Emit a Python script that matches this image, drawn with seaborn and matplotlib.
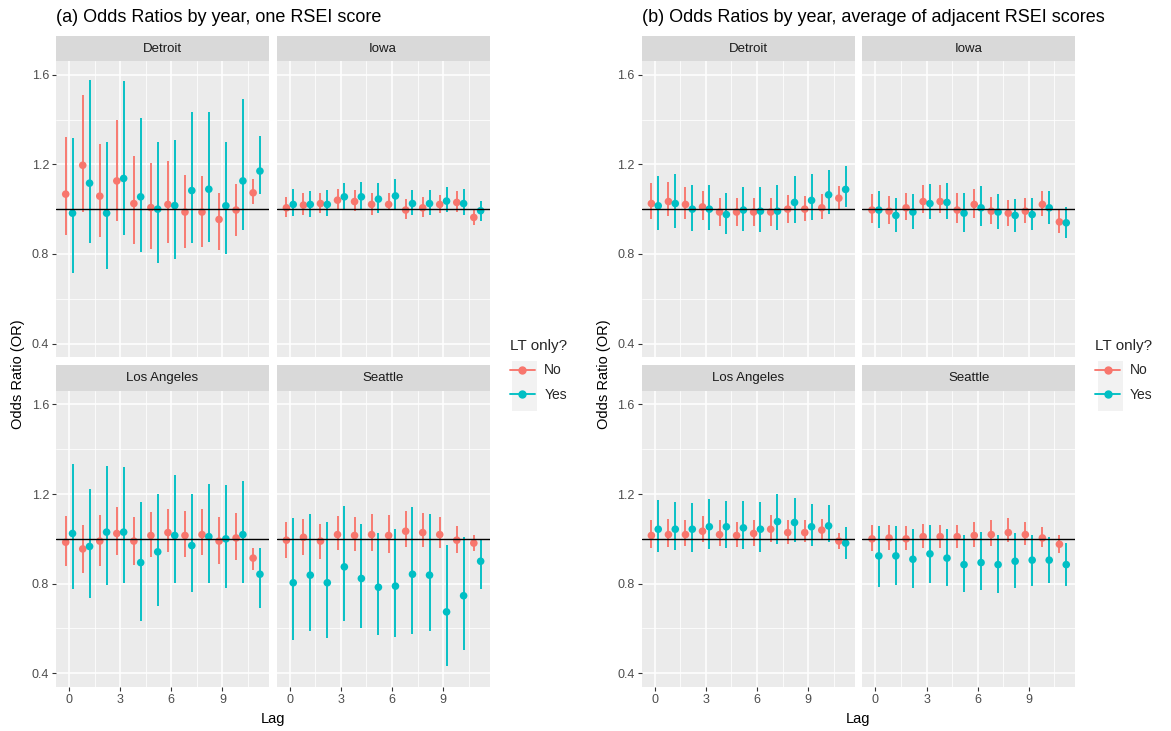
import pandas as pd
import matplotlib
matplotlib.use("Agg")
import matplotlib.pyplot as plt
from matplotlib.lines import Line2D
from matplotlib.patches import Rectangle
from matplotlib.ticker import FixedLocator, FormatStrFormatter
import seaborn as sns

# ------------------------------------------------------------
# Data
# ------------------------------------------------------------
LAGS = list(range(12))
CITIES = ["Detroit", "Iowa", "Los Angeles", "Seattle"]
GROUPS = ["No", "Yes"]
COLORS = {"No": "#F8766D", "Yes": "#00BFC4"}
DODGE = {"No": -0.2, "Yes": 0.2}

# (a) one RSEI score
a_det_no = [1.067, 1.196, 1.058, 1.126, 1.025, 1.007, 1.021, 0.987, 0.987, 0.954, 0.996, 1.073]
a_det_no_lo = [0.884, 0.988, 0.874, 0.945, 0.844, 0.822, 0.850, 0.826, 0.832, 0.816, 0.880, 1.022]
a_det_no_hi = [1.324, 1.510, 1.290, 1.399, 1.238, 1.204, 1.214, 1.152, 1.149, 1.074, 1.113, 1.134]
a_det_yes = [0.982, 1.116, 0.982, 1.137, 1.055, 1.000, 1.016, 1.083, 1.089, 1.015, 1.126, 1.170]
a_det_yes_lo = [0.717, 0.851, 0.735, 0.884, 0.807, 0.759, 0.777, 0.851, 0.854, 0.798, 0.908, 1.067]
a_det_yes_hi = [1.318, 1.577, 1.300, 1.573, 1.409, 1.300, 1.309, 1.434, 1.434, 1.300, 1.491, 1.327]

a_iowa_no = [1.006, 1.018, 1.025, 1.040, 1.034, 1.021, 1.021, 0.996, 1.006, 1.021, 1.030, 0.963]
a_iowa_no_lo = [0.966, 0.975, 0.984, 0.997, 0.993, 0.976, 0.997, 0.955, 0.966, 0.981, 0.988, 0.929]
a_iowa_no_hi = [1.055, 1.070, 1.074, 1.089, 1.085, 1.070, 1.070, 1.045, 1.055, 1.065, 1.080, 1.000]
a_iowa_yes = [1.021, 1.021, 1.021, 1.055, 1.055, 1.045, 1.059, 1.025, 1.025, 1.036, 1.025, 0.993]
a_iowa_yes_lo = [0.970, 0.966, 0.970, 0.997, 0.997, 0.985, 0.997, 0.975, 0.975, 0.988, 0.975, 0.948]
a_iowa_yes_hi = [1.089, 1.080, 1.085, 1.116, 1.122, 1.116, 1.134, 1.085, 1.085, 1.098, 1.089, 1.036]

a_la_no = [0.985, 0.955, 0.990, 1.024, 0.990, 1.015, 1.028, 1.015, 1.019, 0.990, 1.004, 0.914]
a_la_no_lo = [0.877, 0.849, 0.877, 0.930, 0.883, 0.920, 0.943, 0.920, 0.926, 0.887, 0.906, 0.859]
a_la_no_hi = [1.103, 1.064, 1.107, 1.140, 1.097, 1.120, 1.135, 1.125, 1.135, 1.097, 1.116, 0.961]
a_la_yes = [1.024, 0.966, 1.030, 1.030, 0.894, 0.942, 1.015, 0.970, 1.010, 1.000, 1.019, 0.842]
a_la_yes_lo = [0.775, 0.738, 0.795, 0.805, 0.634, 0.699, 0.801, 0.763, 0.801, 0.781, 0.805, 0.690]
a_la_yes_hi = [1.336, 1.223, 1.327, 1.321, 1.164, 1.198, 1.284, 1.198, 1.245, 1.241, 1.260, 0.961]

a_sea_no = [0.994, 1.007, 0.990, 1.019, 1.015, 1.019, 1.015, 1.034, 1.028, 1.019, 0.994, 0.981]
a_sea_no_lo = [0.915, 0.930, 0.911, 0.949, 0.945, 0.945, 0.939, 0.964, 0.964, 0.958, 0.935, 0.945]
a_sea_no_hi = [1.077, 1.088, 1.068, 1.103, 1.097, 1.112, 1.107, 1.126, 1.116, 1.097, 1.058, 1.015]
a_sea_yes = [0.804, 0.838, 0.804, 0.875, 0.823, 0.784, 0.789, 0.842, 0.838, 0.674, 0.746, 0.900]
a_sea_yes_lo = [0.547, 0.587, 0.557, 0.633, 0.602, 0.572, 0.561, 0.576, 0.587, 0.433, 0.505, 0.777]
a_sea_yes_hi = [1.092, 1.112, 1.073, 1.146, 1.068, 1.025, 1.043, 1.140, 1.112, 0.972, 1.010, 1.000]

# (b) average of adjacent RSEI scores
b_det_no = [1.025, 1.034, 1.021, 1.010, 0.987, 0.987, 0.987, 0.987, 1.000, 1.000, 1.006, 1.049]
b_det_no_lo = [0.955, 0.970, 0.955, 0.951, 0.927, 0.927, 0.923, 0.923, 0.940, 0.946, 0.955, 1.000]
b_det_no_hi = [1.116, 1.122, 1.098, 1.079, 1.049, 1.049, 1.049, 1.049, 1.064, 1.059, 1.068, 1.103]
b_det_yes = [1.015, 1.025, 1.000, 1.000, 0.976, 0.996, 0.991, 0.991, 1.030, 1.039, 1.064, 1.088]
b_det_yes_lo = [0.908, 0.917, 0.903, 0.908, 0.888, 0.903, 0.899, 0.908, 0.940, 0.951, 0.978, 1.010]
b_det_yes_hi = [1.146, 1.155, 1.107, 1.107, 1.073, 1.098, 1.098, 1.107, 1.146, 1.155, 1.175, 1.193]

b_iowa_no = [0.996, 0.991, 1.006, 1.034, 1.034, 0.996, 1.021, 0.991, 0.982, 0.991, 1.021, 0.943]
b_iowa_no_lo = [0.936, 0.932, 0.951, 0.981, 0.981, 0.936, 0.961, 0.932, 0.927, 0.936, 0.970, 0.893]
b_iowa_no_hi = [1.068, 1.059, 1.073, 1.107, 1.107, 1.073, 1.092, 1.054, 1.039, 1.049, 1.083, 1.000]
b_iowa_yes = [0.996, 0.972, 0.987, 1.025, 1.030, 0.982, 1.006, 0.987, 0.972, 0.976, 1.006, 0.939]
b_iowa_yes_lo = [0.917, 0.899, 0.912, 0.955, 0.955, 0.899, 0.927, 0.912, 0.899, 0.908, 0.932, 0.869]
b_iowa_yes_hi = [1.083, 1.049, 1.068, 1.112, 1.116, 1.073, 1.103, 1.068, 1.045, 1.049, 1.083, 1.010]

b_la_no = [1.015, 1.019, 1.019, 1.034, 1.019, 1.015, 1.024, 1.043, 1.028, 1.028, 1.039, 0.990]
b_la_no_lo = [0.958, 0.964, 0.969, 0.984, 0.969, 0.964, 0.969, 0.988, 0.978, 0.984, 0.993, 0.954]
b_la_no_hi = [1.082, 1.088, 1.082, 1.103, 1.082, 1.073, 1.082, 1.107, 1.082, 1.082, 1.088, 1.024]
b_la_yes = [1.043, 1.043, 1.043, 1.054, 1.054, 1.049, 1.043, 1.077, 1.073, 1.054, 1.058, 0.981]
b_la_yes_lo = [0.943, 0.949, 0.943, 0.954, 0.958, 0.954, 0.943, 0.978, 0.984, 0.969, 0.984, 0.911]
b_la_yes_hi = [1.174, 1.164, 1.159, 1.179, 1.170, 1.170, 1.164, 1.202, 1.183, 1.155, 1.150, 1.054]

b_sea_no = [1.000, 1.004, 1.000, 1.010, 1.010, 1.010, 1.015, 1.019, 1.028, 1.019, 1.004, 0.976]
b_sea_no_lo = [0.945, 0.949, 0.949, 0.958, 0.958, 0.958, 0.964, 0.969, 0.984, 0.973, 0.964, 0.935]
b_sea_no_hi = [1.064, 1.064, 1.058, 1.068, 1.064, 1.064, 1.077, 1.082, 1.092, 1.073, 1.054, 1.015]
b_sea_yes = [0.924, 0.924, 0.909, 0.933, 0.914, 0.885, 0.894, 0.885, 0.900, 0.905, 0.905, 0.885]
b_sea_yes_lo = [0.786, 0.796, 0.781, 0.805, 0.791, 0.763, 0.772, 0.757, 0.781, 0.791, 0.801, 0.791]
b_sea_yes_hi = [1.058, 1.058, 1.043, 1.064, 1.043, 1.015, 1.030, 1.019, 1.024, 1.015, 1.010, 0.981]


def series(plot, city, group, est, lo, hi):
    return pd.DataFrame({"plot": plot, "city": city, "group": group,
                         "lag": LAGS, "est": est, "lo": lo, "hi": hi})


df = pd.concat([
    series("a", "Detroit", "No", a_det_no, a_det_no_lo, a_det_no_hi),
    series("a", "Detroit", "Yes", a_det_yes, a_det_yes_lo, a_det_yes_hi),
    series("a", "Iowa", "No", a_iowa_no, a_iowa_no_lo, a_iowa_no_hi),
    series("a", "Iowa", "Yes", a_iowa_yes, a_iowa_yes_lo, a_iowa_yes_hi),
    series("a", "Los Angeles", "No", a_la_no, a_la_no_lo, a_la_no_hi),
    series("a", "Los Angeles", "Yes", a_la_yes, a_la_yes_lo, a_la_yes_hi),
    series("a", "Seattle", "No", a_sea_no, a_sea_no_lo, a_sea_no_hi),
    series("a", "Seattle", "Yes", a_sea_yes, a_sea_yes_lo, a_sea_yes_hi),
    series("b", "Detroit", "No", b_det_no, b_det_no_lo, b_det_no_hi),
    series("b", "Detroit", "Yes", b_det_yes, b_det_yes_lo, b_det_yes_hi),
    series("b", "Iowa", "No", b_iowa_no, b_iowa_no_lo, b_iowa_no_hi),
    series("b", "Iowa", "Yes", b_iowa_yes, b_iowa_yes_lo, b_iowa_yes_hi),
    series("b", "Los Angeles", "No", b_la_no, b_la_no_lo, b_la_no_hi),
    series("b", "Los Angeles", "Yes", b_la_yes, b_la_yes_lo, b_la_yes_hi),
    series("b", "Seattle", "No", b_sea_no, b_sea_no_lo, b_sea_no_hi),
    series("b", "Seattle", "Yes", b_sea_yes, b_sea_yes_lo, b_sea_yes_hi),
], ignore_index=True)
df["x"] = df["lag"] + df["group"].map(DODGE)

TITLES = {"a": "(a) Odds Ratios by year, one RSEI score",
          "b": "(b) Odds Ratios by year, average of adjacent RSEI scores"}

# ------------------------------------------------------------
# Style (ggplot2 theme_gray look)
# ------------------------------------------------------------
sns.set_theme(style="darkgrid")
plt.rcParams["font.family"] = ["Liberation Sans", "DejaVu Sans"]

W, H = 1171, 731
fig = plt.figure(figsize=(W / 100, H / 100), dpi=100)
fig.patch.set_facecolor("white")

# panel layout in pixels: left edge of each column, rows top/bottom
COL_LEFT = {"a": [56, 276.7], "b": [641.7, 862.3]}
PANEL_W = 212.8
ROWS = [(61.3, 357.0, 35.7), (391.0, 686.7, 365.0)]  # panel top, panel bottom, strip top


def frac_box(x0, y_top, w, h):
    return [x0 / W, (H - y_top - h) / H, w / W, h / H]


def draw_panel(ax, sub, show_x, show_y):
    ax.set_facecolor("#EBEBEB")
    for grp in GROUPS:
        d = sub[sub["group"] == grp]
        ax.vlines(d["x"], d["lo"], d["hi"], color=COLORS[grp], lw=1.35, zorder=3)
    sns.scatterplot(data=sub, x="x", y="est", hue="group", palette=COLORS,
                    s=30, linewidth=0, legend=False, ax=ax, zorder=4)
    ax.axhline(1.0, color="black", lw=1.0, zorder=5)
    ax.set_xlim(-0.77, 11.72)
    ax.set_ylim(0.34, 1.66)
    ax.xaxis.set_major_locator(FixedLocator([0, 3, 6, 9]))
    ax.xaxis.set_minor_locator(FixedLocator([1.5, 4.5, 7.5, 10.5]))
    ax.yaxis.set_major_locator(FixedLocator([0.4, 0.8, 1.2, 1.6]))
    ax.yaxis.set_minor_locator(FixedLocator([0.6, 1.0, 1.4]))
    ax.xaxis.set_major_formatter(FormatStrFormatter("%d"))
    ax.yaxis.set_major_formatter(FormatStrFormatter("%.1f"))
    ax.grid(which="major", color="white", lw=1.1)
    ax.grid(which="minor", color="white", lw=0.55)
    ax.set_axisbelow(True)
    for s in ax.spines.values():
        s.set_visible(False)
    ax.tick_params(which="major", length=3, width=0.8, color="#333333",
                   labelsize=9, labelcolor="#4D4D4D", pad=2)
    ax.tick_params(which="minor", length=0)
    ax.tick_params(axis="x", bottom=show_x, labelbottom=show_x)
    ax.tick_params(axis="y", left=show_y, labelleft=show_y)
    ax.set_xlabel("")
    ax.set_ylabel("")


for plot in ["a", "b"]:
    lefts = COL_LEFT[plot]
    for i, city in enumerate(CITIES):
        r, c = divmod(i, 2)
        top, bottom, strip_top = ROWS[r]
        x0 = lefts[c]
        ax = fig.add_axes(frac_box(x0, top, PANEL_W, bottom - top))
        sub = df[(df["plot"] == plot) & (df["city"] == city)]
        draw_panel(ax, sub, show_x=(r == 1), show_y=(c == 0))

        # facet strip
        sax = fig.add_axes(frac_box(x0, strip_top, PANEL_W, top - strip_top))
        sax.set_facecolor("#D9D9D9")
        sax.grid(False)
        sax.set_xticks([])
        sax.set_yticks([])
        for s in sax.spines.values():
            s.set_visible(False)
        sax.text(0.5, 0.5, city, ha="center", va="center",
                 fontsize=9.5, color="#1A1A1A", transform=sax.transAxes)

    # titles and axis labels
    fig.text(lefts[0] / W, 1 - 18 / H, TITLES[plot], ha="left", va="center",
             fontsize=13, color="black")
    mid_x = (lefts[0] + lefts[1] + PANEL_W) / 2
    fig.text(mid_x / W, 1 - 719 / H, "Lag", ha="center", va="center",
             fontsize=10.5, color="black")
    fig.text((lefts[0] - 38) / W, 1 - 374 / H, "Odds Ratio (OR)", ha="center",
             va="center", rotation=90, fontsize=10.5, color="black")

    # legend
    leg_x = lefts[1] + PANEL_W + 24
    fig.patches.append(Rectangle(((leg_x - 1.3) / W, (H - 410.7) / H), 25 / W, 50 / H,
                                 transform=fig.transFigure, facecolor="#F2F2F2",
                                 edgecolor="none", zorder=0))
    handles = [Line2D([], [], color=COLORS[g], marker="o", markersize=5, lw=1.35)
               for g in GROUPS]
    fig.legend(handles, GROUPS, title="LT only?", loc="upper left",
               bbox_to_anchor=((leg_x - 4) / W, 1 - 339 / H), frameon=False,
               fontsize=10, title_fontsize=11, handlelength=1.8, handletextpad=0.7,
               labelspacing=0.75, borderpad=0, borderaxespad=0, alignment="left")

fig.savefig("out.png", dpi=100, facecolor="white")
